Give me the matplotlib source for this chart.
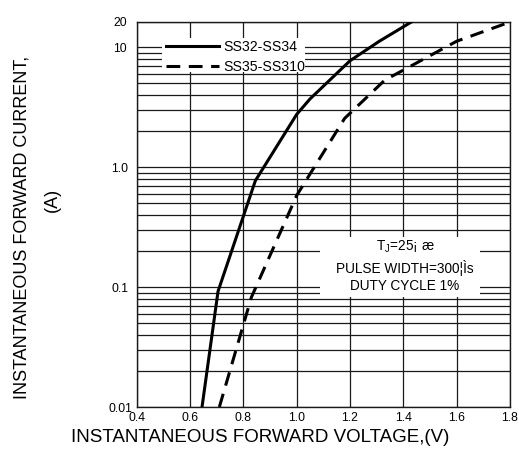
import matplotlib
matplotlib.use("Agg")
import matplotlib.pyplot as plt
from matplotlib.patches import Rectangle
import numpy as np

plt.rcParams['font.family'] = ['Liberation Sans', 'DejaVu Sans']

# Data
v_ss32 = [0.645, 0.705, 0.845, 1.0, 1.05, 1.2, 1.31, 1.43]
i_ss32 = [0.01, 0.092, 0.77, 2.75, 3.7, 7.7, 11.2, 16.2]
v_ss35 = [0.71, 0.83, 1.0, 1.18, 1.33, 1.6, 1.8]
i_ss35 = [0.01, 0.082, 0.58, 2.55, 5.3, 11.2, 16.2]

series_names = ['SS32-SS34', 'SS35-SS310']
x_ticks = [0.4, 0.6, 0.8, 1.0, 1.2, 1.4, 1.6, 1.8]
x_tick_labels = ['0.4', '0.6', '0.8', '1.0', '1.2', '1.4', '1.6', '1.8']
y_ticks = [0.01, 0.1, 1.0, 10, 16.2]
y_tick_labels = ['0.01', '0.1', '1.0', '10', '20']
note_lines = ['T$_\\mathregular{J}$=25¡ æ', 'PULSE WIDTH=300¦Ìs', 'DUTY CYCLE 1%']

W, H = 519, 473
AX_L, AX_R, AX_T, AX_B = 136.7, 510.0, 22.0, 407.0

fig = plt.figure(figsize=(W/100, H/100), dpi=100)
ax = fig.add_axes([AX_L/W, 1-AX_B/H, (AX_R-AX_L)/W, (AX_B-AX_T)/H])

def axfrac(px, py):
    return ((px-AX_L)/(AX_R-AX_L), (AX_B-py)/(AX_B-AX_T))

ax.set_yscale('log')
ax.set_xlim(0.4, 1.8)
ax.set_ylim(0.01, 16.2)

ax.set_xticks(x_ticks)
ax.set_xticklabels(x_tick_labels, fontsize=8.8)
ax.set_yticks(y_ticks)
ax.set_yticklabels(y_tick_labels, fontsize=8.8, ha='center')
ax.yaxis.set_minor_locator(matplotlib.ticker.LogLocator(base=10, subs=np.arange(2, 10)))
ax.yaxis.set_minor_formatter(matplotlib.ticker.NullFormatter())
ax.tick_params(which='both', length=0)
ax.tick_params(axis='x', pad=3.5)
ax.tick_params(axis='y', pad=12)
ax.grid(True, which='major', axis='x', color='#1a1a1a', lw=0.9)
ax.grid(True, which='both', axis='y', color='#1a1a1a', lw=0.9)
for sp in ax.spines.values():
    sp.set_color('#1a1a1a')
    sp.set_linewidth(1.0)

ax.plot(v_ss32, i_ss32, color='black', lw=2.2, label=series_names[0], zorder=3,
        solid_joinstyle='round')
ax.plot(v_ss35, i_ss35, color='black', lw=2.2, ls=(0, (4.5, 2.8)), label=series_names[1], zorder=3)

# legend: white background box
lx0, ly0 = axfrac(162, 72)
lx1, ly1 = axfrac(305, 38)
ax.add_patch(Rectangle((lx0, ly0), lx1-lx0, ly1-ly0, transform=ax.transAxes,
                       facecolor='white', edgecolor='none', zorder=4))
leg = ax.legend(loc='upper left', bbox_to_anchor=axfrac(162, 36), fontsize=10.2,
                handlelength=3.7, handletextpad=0.35, labelspacing=0.38,
                borderpad=0.3, borderaxespad=0.0, frameon=False)
leg.set_zorder(5)

# note box
nx0, ny0 = axfrac(320, 297)
nx1, ny1 = axfrac(480, 237)
ax.add_patch(Rectangle((nx0, ny0), nx1-nx0, ny1-ny0, transform=ax.transAxes,
                       facecolor='white', edgecolor='none', zorder=4))
tx, ty = axfrac(405, 266)
ax.text(tx, ty, '\n'.join(note_lines), transform=ax.transAxes, fontsize=9.8,
        ha='center', va='center', multialignment='center', linespacing=1.35, zorder=5)

fig.text(260/W, 1-437/H, 'INSTANTANEOUS FORWARD VOLTAGE,(V)', fontsize=13.5,
         ha='center', va='center')
fig.text(22/W, 1-227/H, 'INSTANTANEOUS FORWARD CURRENT,', fontsize=13,
         ha='center', va='center', rotation=90)
fig.text(52/W, 1-200/H, '(A)', fontsize=13, ha='center', va='center', rotation=90)

fig.savefig('out.png', dpi=100)
